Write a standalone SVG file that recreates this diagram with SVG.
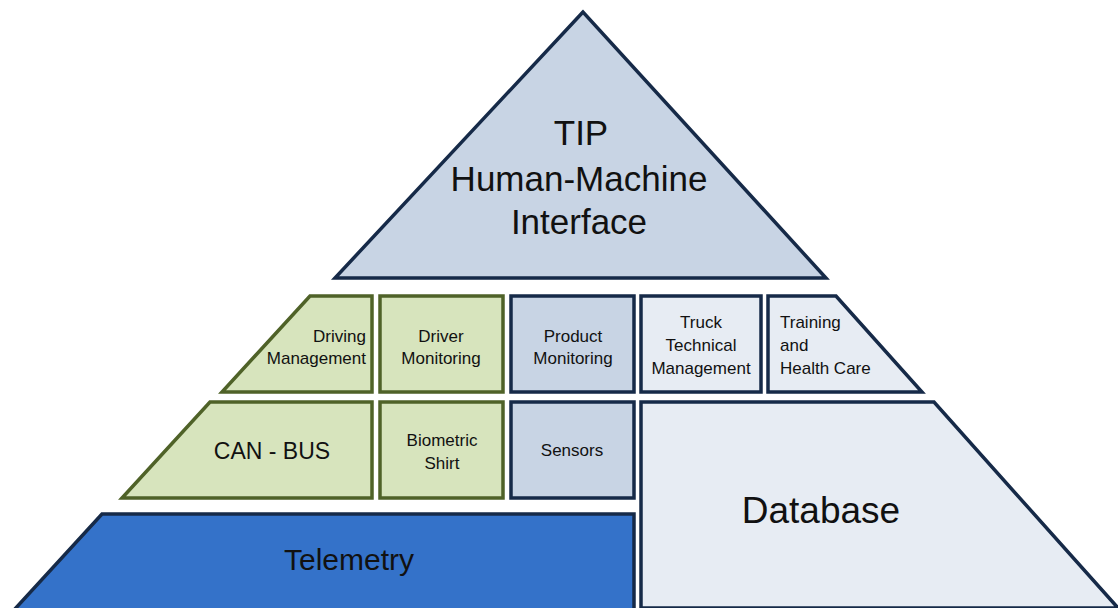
<svg xmlns="http://www.w3.org/2000/svg" width="1118" height="608" viewBox="0 0 1118 608">
<style>
.g{fill:#d7e4bd;stroke:#4f6228;stroke-width:3.5;stroke-linejoin:miter}
.b{fill:#c8d4e4;stroke:#162a48;stroke-width:3.5}
.l{fill:#e7ecf3;stroke:#162a48;stroke-width:3.5}
.d{fill:#3472c9;stroke:#162a48;stroke-width:3.5}
text{font-family:"Liberation Sans",Arial,sans-serif;fill:#111}
.s{font-size:17px}
</style>
<rect width="1118" height="608" fill="#fff"/>
<g id="tip">
<polygon class="b" points="583,12 335,278 826,278"/>
<text x="581" y="145" font-size="35" text-anchor="middle">TIP</text>
<text x="579" y="191" font-size="35" text-anchor="middle">Human-Machine</text>
<text x="579" y="234" font-size="35" text-anchor="middle">Interface</text>
</g>
<g id="driving-management">
<polygon class="g" points="310,296 372,296 372,392 222,392"/>
<text class="s" x="366" y="342" text-anchor="end">Driving</text>
<text class="s" x="366" y="364" text-anchor="end">Management</text>
</g>
<g id="driver-monitoring">
<rect class="g" x="380" y="296" width="123" height="96"/>
<text class="s" x="441" y="342" text-anchor="middle">Driver</text>
<text class="s" x="441" y="364" text-anchor="middle">Monitoring</text>
</g>
<g id="product-monitoring">
<rect class="b" x="511" y="296" width="123" height="96"/>
<text class="s" x="573" y="342" text-anchor="middle">Product</text>
<text class="s" x="573" y="364" text-anchor="middle">Monitoring</text>
</g>
<g id="truck-technical-management">
<rect class="l" x="641" y="296" width="120" height="96"/>
<text class="s" x="701" y="328" text-anchor="middle">Truck</text>
<text class="s" x="701" y="351" text-anchor="middle">Technical</text>
<text class="s" x="701" y="374" text-anchor="middle">Management</text>
</g>
<g id="training-health-care">
<polygon class="l" points="768,296 836,296 922,392 768,392"/>
<text class="s" x="780" y="328">Training</text>
<text class="s" x="780" y="351">and</text>
<text class="s" x="780" y="374">Health Care</text>
</g>
<g id="can-bus">
<polygon class="g" points="210,402 372,402 372,498 122,498"/>
<text x="272" y="459" font-size="23" text-anchor="middle">CAN - BUS</text>
</g>
<g id="biometric-shirt">
<rect class="g" x="380" y="402" width="123" height="96"/>
<text class="s" x="442" y="446" text-anchor="middle">Biometric</text>
<text class="s" x="442" y="469" text-anchor="middle">Shirt</text>
</g>
<g id="sensors">
<rect class="b" x="511" y="402" width="123" height="96"/>
<text class="s" x="572" y="456" text-anchor="middle">Sensors</text>
</g>
<g id="database">
<polygon class="l" points="641,402 934,402 1118,608 641,608"/>
<text x="821" y="523" font-size="37" text-anchor="middle">Database</text>
</g>
<g id="telemetry">
<polygon class="d" points="102,514 634,514 634,610 14,610"/>
<text x="349" y="570" font-size="30" text-anchor="middle">Telemetry</text>
</g>
<g id="connectors"/>
</svg>
